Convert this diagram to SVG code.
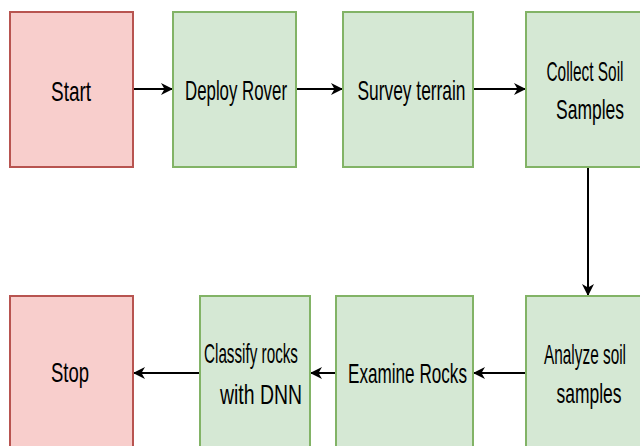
<svg xmlns="http://www.w3.org/2000/svg" width="640" height="446" viewBox="0 0 640 446">
<defs>
<style>
.red{fill:#f8cecc;stroke:#b85450;stroke-width:2}
.green{fill:#d5e8d4;stroke:#82b366;stroke-width:2}
.lbl{font-family:"Liberation Sans",Arial,sans-serif;font-size:28px;fill:#000;text-anchor:middle}
.edge{stroke:#000;stroke-width:2;fill:none}
</style>
<marker id="arr" viewBox="0 0 12 12" refX="11" refY="6" markerWidth="12" markerHeight="12" orient="auto" markerUnits="userSpaceOnUse">
<path d="M0,0 L12,6 L0,12 L3.5,6 Z" fill="#000"/>
</marker>
</defs>
<rect width="640" height="446" fill="#fff"/>
<g id="connectors">
<line class="edge" x1="133" y1="89" x2="172" y2="89" marker-end="url(#arr)"/>
<line class="edge" x1="296" y1="89" x2="342" y2="89" marker-end="url(#arr)"/>
<line class="edge" x1="473" y1="89" x2="525" y2="89" marker-end="url(#arr)"/>
<line class="edge" x1="588" y1="167" x2="588" y2="295" marker-end="url(#arr)"/>
<line class="edge" x1="526" y1="373" x2="474" y2="373" marker-end="url(#arr)"/>
<line class="edge" x1="336" y1="373" x2="311" y2="373" marker-end="url(#arr)"/>
<line class="edge" x1="200" y1="373" x2="134" y2="373" marker-end="url(#arr)"/>
</g>
<g id="start">
<rect class="red" x="10" y="12" width="123" height="155"/>
<text class="lbl" x="71" y="101" textLength="40" lengthAdjust="spacingAndGlyphs">Start</text>
</g>
<g id="deploy">
<rect class="green" x="173" y="12" width="123" height="155"/>
<text class="lbl" x="236" y="100" textLength="102" lengthAdjust="spacingAndGlyphs">Deploy Rover</text>
</g>
<g id="survey">
<rect class="green" x="343" y="12" width="130" height="155"/>
<text class="lbl" x="411.5" y="100" textLength="108" lengthAdjust="spacingAndGlyphs">Survey terrain</text>
</g>
<g id="collect">
<rect class="green" x="526" y="12" width="130" height="155"/>
<text class="lbl" x="585" y="81" textLength="77" lengthAdjust="spacingAndGlyphs">Collect Soil</text>
<text class="lbl" x="590" y="119" textLength="68" lengthAdjust="spacingAndGlyphs">Samples</text>
</g>
<g id="analyze">
<rect class="green" x="526" y="296" width="130" height="160"/>
<text class="lbl" x="585" y="364" textLength="82" lengthAdjust="spacingAndGlyphs">Analyze soil</text>
<text class="lbl" x="589" y="403" textLength="65" lengthAdjust="spacingAndGlyphs">samples</text>
</g>
<g id="examine">
<rect class="green" x="336" y="296" width="137" height="160"/>
<text class="lbl" x="407.5" y="382.5" textLength="119" lengthAdjust="spacingAndGlyphs">Examine Rocks</text>
</g>
<g id="classify">
<rect class="green" x="200" y="296" width="110" height="160"/>
<text class="lbl" x="251" y="363" textLength="94" lengthAdjust="spacingAndGlyphs">Classify rocks</text>
<text class="lbl" x="261" y="404" textLength="82" lengthAdjust="spacingAndGlyphs">with DNN</text>
</g>
<g id="stop">
<rect class="red" x="10" y="296" width="123" height="160"/>
<text class="lbl" x="70" y="381.5" textLength="38" lengthAdjust="spacingAndGlyphs">Stop</text>
</g>
</svg>
